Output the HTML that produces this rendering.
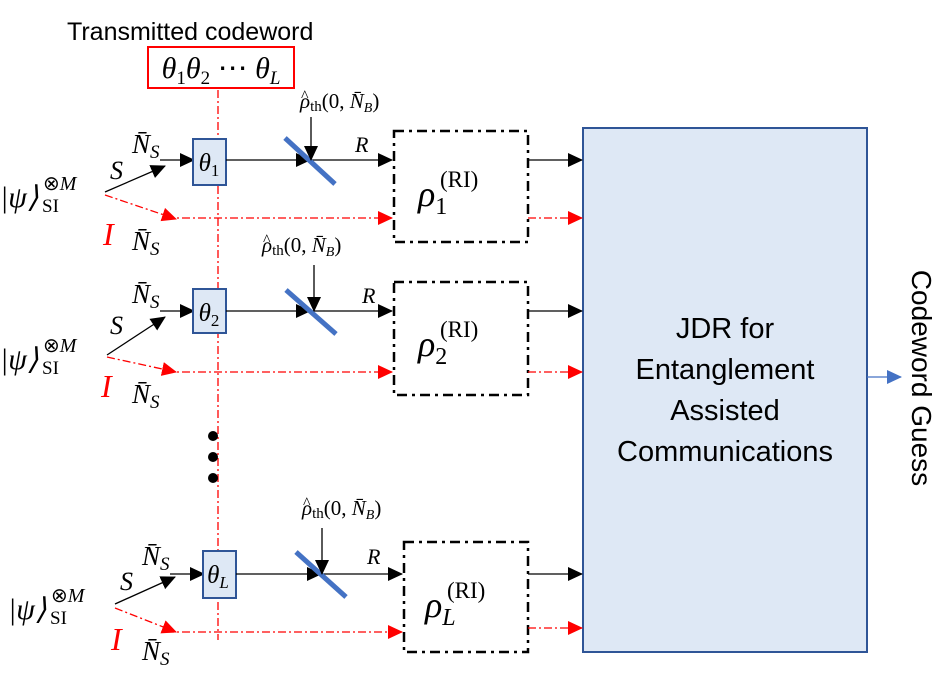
<!DOCTYPE html>
<html><head><meta charset="utf-8"><style>
body{margin:0;background:#fff}
svg{display:block}
.m{font-family:"Liberation Serif",serif;font-style:italic}
.r{font-family:"Liberation Serif",serif}
</style></head><body>
<svg width="948" height="674" viewBox="0 0 948 674" xmlns="http://www.w3.org/2000/svg">
<defs>
<marker id="ar" markerWidth="16" markerHeight="16" refX="14" refY="8" orient="auto" markerUnits="userSpaceOnUse"><path d="M0,1 L15,8 L0,15 z" fill="#f00"/></marker>
<marker id="ak" markerWidth="16" markerHeight="16" refX="14" refY="8" orient="auto" markerUnits="userSpaceOnUse"><path d="M0,1 L15,8 L0,15 z" fill="#000"/></marker>
<marker id="au" markerWidth="16" markerHeight="16" refX="14" refY="8" orient="auto" markerUnits="userSpaceOnUse"><path d="M0,1 L15,8 L0,15 z" fill="#4472c4"/></marker>
</defs>

<text x="67" y="40" font-family="Liberation Sans,sans-serif" font-size="25">Transmitted codeword</text>
<rect x="148" y="47" width="146" height="41" fill="#fff" stroke="#f00" stroke-width="2"/>
<text x="221" y="78" text-anchor="middle" class="m" font-size="30">θ<tspan font-size="19" dy="6" font-style="normal">1</tspan><tspan dy="-6">θ</tspan><tspan font-size="19" dy="6" font-style="normal">2</tspan><tspan dy="-6" font-style="normal"> ⋯ </tspan>θ<tspan font-size="19" dy="6">L</tspan></text>

<line x1="218" y1="90" x2="218" y2="640" stroke="#f00" stroke-width="1.3" stroke-dasharray="8,3,2,3"/>
<circle cx="213" cy="436" r="5"/><circle cx="213" cy="457" r="5"/><circle cx="213" cy="478" r="5"/>

<rect x="583" y="128" width="284" height="524" fill="#dee8f5" stroke="#2f5597" stroke-width="2"/>
<g font-family="Liberation Sans,sans-serif" font-size="29" text-anchor="middle">
<text x="725" y="338">JDR for</text>
<text x="725" y="379">Entanglement</text>
<text x="725" y="420">Assisted</text>
<text x="725" y="461">Communications</text>
</g>
<line x1="867" y1="377" x2="901" y2="377" stroke="#4472c4" stroke-width="1.3" marker-end="url(#au)"/>
<text transform="translate(912,378) rotate(90)" text-anchor="middle" font-family="Liberation Sans,sans-serif" font-size="28">Codeword Guess</text>

<!-- Row 1 -->
<g>
<text x="0" y="207" class="m" font-size="30">|ψ⟩</text><text x="43" y="190" class="r" font-size="20">⊗<tspan class="m">M</tspan></text><text x="42" y="212" class="r" font-size="19">SI</text>
<line x1="105" y1="192" x2="165" y2="166" stroke="#000" stroke-width="1.3" marker-end="url(#ak)"/>
<line x1="160" y1="160" x2="194" y2="160" stroke="#000" stroke-width="1.3" marker-end="url(#ak)"/>
<text x="110" y="179" class="m" font-size="26">S</text>
<text x="132" y="153" class="m" font-size="27">N̄<tspan font-size="19" dy="5">S</tspan></text>
<rect x="193" y="139" width="33" height="46" fill="#dee8f5" stroke="#2f5597" stroke-width="2"/>
<text x="209" y="171" text-anchor="middle" class="m" font-size="25">θ<tspan font-size="17" dy="5" font-style="normal">1</tspan></text>
<line x1="226" y1="160" x2="310" y2="160" stroke="#000" stroke-width="1.3" marker-end="url(#ak)"/>
<line x1="310" y1="160" x2="392" y2="160" stroke="#000" stroke-width="1.3" marker-end="url(#ak)"/>
<line x1="285" y1="138" x2="335" y2="184" stroke="#4472c4" stroke-width="5"/>
<line x1="311" y1="117" x2="311" y2="160" stroke="#000" stroke-width="1.3" marker-end="url(#ak)"/>
<text x="300" y="108" class="m" font-size="21">ρ<tspan font-style="normal" font-size="15" dy="3">th</tspan><tspan font-style="normal" dy="-3">(0, </tspan>N̄<tspan font-size="14" dy="4">B</tspan><tspan font-style="normal" dy="-4">)</tspan></text>
<text x="301" y="101" class="r" font-size="16">^</text>
<text x="355" y="152" class="m" font-size="22">R</text>
<line x1="105" y1="195" x2="176" y2="219" stroke="#f00" stroke-width="1.3" stroke-dasharray="8,3,2,3" marker-end="url(#ar)"/>
<line x1="166" y1="218" x2="392" y2="218" stroke="#f00" stroke-width="1.3" stroke-dasharray="8,3,2,3" marker-end="url(#ar)"/>
<text x="103" y="245" class="m" font-size="32" fill="#f00">I</text>
<text x="132" y="250" class="m" font-size="27">N̄<tspan font-size="19" dy="5">S</tspan></text>
<rect x="394" y="131" width="134" height="111" fill="none" stroke="#000" stroke-width="2.5" stroke-dasharray="10,5,3,5"/>
<text x="418" y="206" class="m" font-size="36">ρ<tspan font-size="24" dy="8" font-style="normal">1</tspan></text>
<text x="440" y="187" class="r" font-size="23">(RI)</text>
<line x1="528" y1="160" x2="582" y2="160" stroke="#000" stroke-width="1.3" marker-end="url(#ak)"/>
<line x1="528" y1="218" x2="582" y2="218" stroke="#f00" stroke-width="1.3" stroke-dasharray="8,3,2,3" marker-end="url(#ar)"/>
</g>

<!-- Row 2 -->
<g>
<text x="0" y="369" class="m" font-size="30">|ψ⟩</text><text x="43" y="352" class="r" font-size="20">⊗<tspan class="m">M</tspan></text><text x="42" y="374" class="r" font-size="19">SI</text>
<line x1="107" y1="355" x2="165" y2="317" stroke="#000" stroke-width="1.3" marker-end="url(#ak)"/>
<line x1="160" y1="311" x2="194" y2="311" stroke="#000" stroke-width="1.3" marker-end="url(#ak)"/>
<text x="110" y="334" class="m" font-size="26">S</text>
<text x="132" y="303" class="m" font-size="27">N̄<tspan font-size="19" dy="5">S</tspan></text>
<rect x="193" y="289" width="33" height="44" fill="#dee8f5" stroke="#2f5597" stroke-width="2"/>
<text x="209" y="321" text-anchor="middle" class="m" font-size="25">θ<tspan font-size="17" dy="5" font-style="normal">2</tspan></text>
<line x1="226" y1="311" x2="310" y2="311" stroke="#000" stroke-width="1.3" marker-end="url(#ak)"/>
<line x1="310" y1="311" x2="392" y2="311" stroke="#000" stroke-width="1.3" marker-end="url(#ak)"/>
<line x1="286" y1="290" x2="336" y2="334" stroke="#4472c4" stroke-width="5"/>
<line x1="314" y1="265" x2="314" y2="311" stroke="#000" stroke-width="1.3" marker-end="url(#ak)"/>
<text x="262" y="252" class="m" font-size="21">ρ<tspan font-style="normal" font-size="15" dy="3">th</tspan><tspan font-style="normal" dy="-3">(0, </tspan>N̄<tspan font-size="14" dy="4">B</tspan><tspan font-style="normal" dy="-4">)</tspan></text>
<text x="263" y="245" class="r" font-size="16">^</text>
<text x="362" y="303" class="m" font-size="22">R</text>
<line x1="107" y1="357" x2="176" y2="372" stroke="#f00" stroke-width="1.3" stroke-dasharray="8,3,2,3" marker-end="url(#ar)"/>
<line x1="166" y1="372" x2="392" y2="372" stroke="#f00" stroke-width="1.3" stroke-dasharray="8,3,2,3" marker-end="url(#ar)"/>
<text x="101" y="397" class="m" font-size="32" fill="#f00">I</text>
<text x="132" y="403" class="m" font-size="27">N̄<tspan font-size="19" dy="5">S</tspan></text>
<rect x="394" y="282" width="134" height="113" fill="none" stroke="#000" stroke-width="2.5" stroke-dasharray="10,5,3,5"/>
<text x="418" y="356" class="m" font-size="36">ρ<tspan font-size="24" dy="8" font-style="normal">2</tspan></text>
<text x="440" y="337" class="r" font-size="23">(RI)</text>
<line x1="528" y1="311" x2="582" y2="311" stroke="#000" stroke-width="1.3" marker-end="url(#ak)"/>
<line x1="528" y1="372" x2="582" y2="372" stroke="#f00" stroke-width="1.3" stroke-dasharray="8,3,2,3" marker-end="url(#ar)"/>
</g>

<!-- Row 3 -->
<g>
<text x="8" y="619" class="m" font-size="30">|ψ⟩</text><text x="51" y="602" class="r" font-size="20">⊗<tspan class="m">M</tspan></text><text x="50" y="624" class="r" font-size="19">SI</text>
<line x1="115" y1="604" x2="175" y2="577" stroke="#000" stroke-width="1.3" marker-end="url(#ak)"/>
<line x1="170" y1="574" x2="204" y2="574" stroke="#000" stroke-width="1.3" marker-end="url(#ak)"/>
<text x="120" y="590" class="m" font-size="26">S</text>
<text x="142" y="565" class="m" font-size="27">N̄<tspan font-size="19" dy="5">S</tspan></text>
<rect x="203" y="551" width="33" height="47" fill="#dee8f5" stroke="#2f5597" stroke-width="2"/>
<text x="218" y="583" text-anchor="middle" class="m" font-size="25">θ<tspan font-size="17" dy="5">L</tspan></text>
<line x1="236" y1="574" x2="321" y2="574" stroke="#000" stroke-width="1.3" marker-end="url(#ak)"/>
<line x1="321" y1="574" x2="402" y2="574" stroke="#000" stroke-width="1.3" marker-end="url(#ak)"/>
<line x1="296" y1="552" x2="346" y2="597" stroke="#4472c4" stroke-width="5"/>
<line x1="322" y1="528" x2="322" y2="574" stroke="#000" stroke-width="1.3" marker-end="url(#ak)"/>
<text x="302" y="515" class="m" font-size="21">ρ<tspan font-style="normal" font-size="15" dy="3">th</tspan><tspan font-style="normal" dy="-3">(0, </tspan>N̄<tspan font-size="14" dy="4">B</tspan><tspan font-style="normal" dy="-4">)</tspan></text>
<text x="303" y="508" class="r" font-size="16">^</text>
<text x="367" y="564" class="m" font-size="22">R</text>
<line x1="115" y1="608" x2="176" y2="632" stroke="#f00" stroke-width="1.3" stroke-dasharray="8,3,2,3" marker-end="url(#ar)"/>
<line x1="166" y1="632" x2="402" y2="632" stroke="#f00" stroke-width="1.3" stroke-dasharray="8,3,2,3" marker-end="url(#ar)"/>
<text x="111" y="650" class="m" font-size="32" fill="#f00">I</text>
<text x="142" y="660" class="m" font-size="27">N̄<tspan font-size="19" dy="5">S</tspan></text>
<rect x="404" y="542" width="124" height="110" fill="none" stroke="#000" stroke-width="2.5" stroke-dasharray="10,5,3,5"/>
<text x="425" y="617" class="m" font-size="36">ρ<tspan font-size="24" dy="8">L</tspan></text>
<text x="447" y="598" class="r" font-size="23">(RI)</text>
<line x1="528" y1="574" x2="582" y2="574" stroke="#000" stroke-width="1.3" marker-end="url(#ak)"/>
<line x1="528" y1="628" x2="582" y2="628" stroke="#f00" stroke-width="1.3" stroke-dasharray="8,3,2,3" marker-end="url(#ar)"/>
</g>
</svg>
</body></html>
